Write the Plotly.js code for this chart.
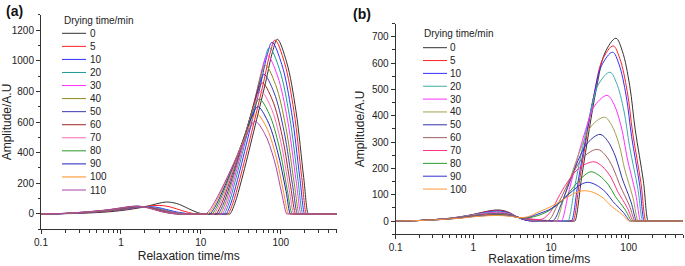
<!DOCTYPE html>
<html>
<head>
<meta charset="utf-8">
<script src="https://cdn.plot.ly/plotly-3.0.1.min.js"></script>
<style>html,body{margin:0;padding:0;background:#fff;}#chart{width:685px;height:266px;}</style>
</head>
<body>
<div id="chart"></div>
<script>
// ---------- Panel (a) data ----------
const aLabels = ['0','5','10','20','30','40','50','60','70','80','90','100','110'];
const aT2 = [
  [0.1,0.2,0.3,0.5,0.7,1,1.5,2,3,3.7,5,7,9,11, 22.5,23.2,26.6,32.6,45.8,64.4,79.1,90.6,118.3,154.9,193.6,221.3,228,500],
  [0.1,0.2,0.3,0.5,0.7,1,1.5,2,3,4,5,7,9, 21.2,21.9,25.1,30.7,43.2,60.5,74.1,84.9,111.4,146.2,183.2,209.9,216,500],
  [0.1,0.2,0.3,0.5,0.7,1,1.5,2,2.7,4,5,7,8.5, 20.1,20.7,23.7,28.8,40.1,55.8,68.1,77.8,103.3,136.8,173.4,199.5,205,500],
  [0.1,0.2,0.3,0.5,0.7,1,1.5,1.9,2.7,4,5,7,8, 18.9,19.5,22.3,27.0,37.5,52.0,63.2,72.1,96.4,128.5,163.7,189.2,195,500],
  [0.1,0.2,0.3,0.5,0.7,1,1.5,1.8,2.5,4,5,6.5, 17.8,18.4,21.1,25.5,35.4,49.1,59.7,68.1,91.2,121.9,155.6,179.9,185,500],
  [0.1,0.2,0.3,0.5,0.7,1,1.5,1.8,2.5,4,5,6, 16.9,17.4,19.9,24.1,33.4,46.3,56.4,64.3,86.1,115.3,147.2,170.6,176,500],
  [0.1,0.2,0.3,0.5,0.7,1,1.5,1.8,2.5,3.5,5,6, 15.9,16.4,18.8,22.9,31.8,44.3,54.1,61.7,82.4,110.2,140.3,162.2,167,500],
  [0.1,0.2,0.3,0.5,0.7,1,1.4,1.7,2.4,3.5,5,6, 15.0,15.5,17.7,21.6,30.2,42.2,51.5,58.9,78.5,104.7,133.0,153.8,158,500],
  [0.1,0.2,0.3,0.5,0.7,1,1.4,1.7,2.4,3.5,5,6, 14.2,14.6,16.7,20.5,28.8,40.4,49.4,56.6,75.3,100,126.8,146.2,150.5,500],
  [0.1,0.2,0.3,0.5,0.7,1,1.4,1.7,2.3,3.3,4.5,5.5, 13.4,13.8,15.8,19.4,27.3,38.4,47.1,54.0,71.6,95.1,120.5,138.7,143,500],
  [0.1,0.2,0.3,0.5,0.7,1,1.4,1.7,2.3,3.3,4.5,5.5, 12.6,13.0,14.9,18.4,25.9,36.6,44.9,51.5,68.2,90.6,116.7,131.8,136,500],
  [0.1,0.2,0.3,0.5,0.7,1,1.3,1.6,2.2,3.2,4.5,5.5, 11.9,12.3,14.1,17.4,24.7,35.0,43.2,49.5,65.5,86.3,108.9,125.0,129,500],
  [0.1,0.2,0.3,0.5,0.7,1,1.3,1.6,2.2,3.2,4.5,5.5, 11.25,11.6,13.3,16.5,23.5,33.5,41.4,47.6,62.7,82.4,103.5,118.9,122.5,500]
];
const aAmp = [
  [0,2,4,9,14,22,35,47,70,78,68,35,10,0, 0,0,68,228,536,855,1060,1140,992,673,239,0,0,0],
  [0,3,6,13,19,28,40,49,56,48,33,10,0, 0,0,68,227,533,851,1056,1135,987,670,238,0,0,0],
  [0,3,7,14,21,30,42,48,45,25,13,2,0, 0,0,67,224,526,840,1042,1120,974,661,235,0,0,0],
  [0,3,7,15,22,31,44,48,40,20,9,1,0, 0,0,65,217,510,814,1009,1085,944,640,228,0,0,0],
  [0,3,8,16,23,32,45,48,41,16,7,0, 0,0,62,207,486,776,963,1035,900,611,217,0,0,0],
  [0,3,8,16,23,33,46,48,40,14,5,0, 0,0,58,194,456,728,902,970,844,572,204,0,0,0],
  [0,3,8,17,24,34,47,48,38,18,3,0, 0,0,55,182,428,683,846,910,792,537,191,0,0,0],
  [0,3,9,17,24,35,47,49,39,17,3,0, 0,0,51,171,402,641,795,855,744,504,180,0,0,0],
  [0,4,9,18,25,36,48,49,38,16,3,0, 0,0,48,160,376,600,744,800,696,472,168,0,0,0],
  [0,4,9,18,26,37,48,50,40,17,3,0, 0,0,45,150,353,563,698,750,653,443,158,0,0,0],
  [0,4,10,19,27,38,49,50,39,16,3,0, 0,0,42,140,329,525,651,700,609,413,147,0,0,0],
  [0,4,10,19,27,39,48,50,40,16,3,0, 0,0,39,131,308,491,609,655,570,386,138,0,0,0],
  [0,4,10,20,28,40,49,50,39,15,2,0, 0,0,36,121,284,454,563,605,526,357,127,0,0,0]
];

// ---------- Panel (b) data ----------
const bLabels = ['0','5','10','20','30','40','50','60','70','80','90','100'];
const bT2 = [
  [0.1,0.15,0.2,0.3,0.5,0.7,1,1.5,2,2.5,3,4,5,6, 19.7,20.3,25.0,31.0,38.6,49.3,68.4,82.8,103.0,121.3,154.2,177.8,183,500],
  [0.1,0.15,0.2,0.3,0.5,0.7,1,1.5,2,2.5,3,4,5,6, 18.7,19.3,23.6,29.2,36.1,45.8,63.1,76.6,95.7,112.7,143.5,166,171,500],
  [0.1,0.15,0.2,0.3,0.5,0.7,1,1.5,2,2.5,3,4,5,6, 17.8,18.4,22.6,28.2,35.1,44.7,62.1,74.8,92.9,108.9,137.7,158.5,163,500],
  [0.1,0.15,0.2,0.3,0.5,0.7,1,1.5,2,2.5,3,4,5,6.5, 16.1,16.6,20.5,25.6,32.1,41.0,57.3,69.5,86.9,102.6,130.9,151.4,156,500],
  [0.1,0.15,0.2,0.3,0.5,0.7,1,1.5,2,2.5,3,4,5,7,9, 13.3,13.7,17.2,21.9,28.0,36.7,52.8,64.4,80.9,95.7,122.7,142.2,146.5,500],
  [0.1,0.15,0.2,0.3,0.5,0.7,1,1.5,2,2.5,3,4,5,7,9, 11.4,11.8,15.0,19.4,25.1,33.3,49.0,59.7,75.0,88.7,113.8,131.8,136,500],
  [0.1,0.15,0.2,0.3,0.5,0.7,1,1.5,2,2.5,3,4,5,7,9, 10.7,13.6,17.4,22.3,29.4,42.7,53.0,67.9,81.7,107.2,125.9,130,500],
  [0.1,0.15,0.2,0.3,0.5,0.7,1,1.5,2,2.5,3,4,5,6.5, 9.2,11.8,15.3,19.9,26.6,39.4,49.2,63.1,76.9,101.6,120.2,124,500],
  [0.1,0.15,0.2,0.3,0.5,0.7,1,1.5,2,2.5,3,4,5,6.5, 7.8,9.9,13.0,17.2,23.5,35.6,45.0,58.9,71.8,96.0,114.3,118,500],
  [0.1,0.15,0.2,0.3,0.5,0.7,1,1.5,2,2.5,3,4, 5,7,10,14,19,25,32.4,41.2,54.6,67.0,90.8,108.9,112,500],
  [0.1,0.15,0.2,0.3,0.5,0.7,1,1.5,2,2.5,3,4, 5,7,10,14,19,24,29.6,38.0,50.7,62.7,85.7,103.5,107,500],
  [0.1,0.15,0.2,0.3,0.5,0.7,1,1.5,2,2.5,3,4, 5,7,10,14,19,23,27.5,35.6,48.0,59.7,82.4,100,103,500]
];
const bAmp = [
  [0,1,2,5,11,17,25,37,42,39,30,10,2,0, 0,0,174,347,507,638,694,645,514,347,153,0,0,0],
  [0,1,2,5,10,16,25,36,40,37,29,10,2,0, 0,0,166,333,485,612,665,618,492,333,146,0,0,0],
  [0,1,2,5,10,16,24,34,38,35,28,10,2,0, 0,0,160,321,468,590,641,596,474,321,141,0,0,0],
  [0,1,2,5,10,16,24,32,35,33,27,12,5,0, 0,0,141,283,412,520,565,525,418,283,124,0,0,0],
  [0,1,2,5,10,15,22,30,33,31,26,12,6,1,0, 0,0,119,239,348,439,477,444,353,239,105,0,0,0],
  [0,1,2,5,10,15,22,28,30,29,25,12,7,3,1, 0,0,99,197,288,362,394,366,292,197,87,0,0,0],
  [0,1,2,5,9,14,20,26,28,27,24,12,8,4,2, 2,66,148,230,296,329,306,243,165,72,0,0,0],
  [0,1,2,5,9,14,20,25,27,26,22,12,7,3, 2,54,122,190,245,272,253,201,136,60,0,0,0],
  [0,1,2,4,9,13,19,24,25,24,21,12,9,6, 8,36,101,158,203,225,209,167,113,50,0,0,0],
  [0,1,2,4,8,12,18,22,24,23,20,12, 12,22,44,78,125,165,187,174,138,94,41,0,0,0],
  [0,1,2,4,8,12,17,21,22,21,19,13, 14,28,47,80,115,138,147,137,109,74,32,0,0,0],
  [0,1,2,4,8,11,16,20,21,20,18,13, 16,35,55,80,102,112,115,108,85,57,25,0,0,0]
];

// ---------- tick definitions ----------
const xMajor = [0.1, 1, 10, 100];
const xMajorText = ['0.1', '1', '10', '100'];
const xMinor = [0.2,0.3,0.4,0.5,0.6,0.7,0.8,0.9,2,3,4,5,6,7,8,9,20,30,40,50,60,70,80,90,200,300,400,500];
const aYTicks = [0, 200, 400, 600, 800, 1000, 1200];
const bYTicks = [0, 100, 200, 300, 400, 500, 600, 700];

// ---------- styles ----------
const aColors = ['#333333','#ff2020','#3030ff','#1a9a9a','#ff30ff','#8c8c1a','#3a3ab0','#a02828','#ff6ab4','#2a9a2a','#2020b8','#ff8c1a','#aa44aa'];
const bColors = ['#333333','#ff2020','#3030ff','#40aaaa','#ff30ff','#a0a050','#3535aa','#a06060','#ff3388','#2a9a2a','#3030cc','#ff9933'];

const W = 685, H = 266;
const FONT = 'Arial, "Liberation Sans", Helvetica, sans-serif';
const TXT = '#222222';

const traces = [];
aLabels.forEach((lab, i) => {
  traces.push({x: aT2[i], y: aAmp[i], xaxis: 'x', yaxis: 'y', mode: 'lines', name: lab,
    line: {shape: 'spline', smoothing: 1, width: 1, color: aColors[i]}, hoverinfo: 'skip'});
});
bLabels.forEach((lab, i) => {
  traces.push({x: bT2[i], y: bAmp[i], xaxis: 'x2', yaxis: 'y2', mode: 'lines', name: lab,
    line: {shape: 'spline', smoothing: 1, width: 1, color: bColors[i]}, hoverinfo: 'skip'});
});

function xAxis(domain, anchor) {
  return {
    domain: domain, anchor: anchor, type: 'log', range: [-1, Math.log10(500)],
    tickmode: 'array', tickvals: xMajor, ticktext: xMajorText,
    ticks: 'outside', ticklen: 4, tickwidth: 1, tickcolor: '#333',
    minor: {tickmode: 'array', tickvals: xMinor, ticks: 'outside', ticklen: 2.5, tickcolor: '#333', showgrid: false},
    showline: true, linecolor: '#333', linewidth: 1, showgrid: false, zeroline: false,
    tickfont: {family: FONT, size: 10, color: TXT},
    title: {text: 'Relaxation time/ms', font: {family: FONT, size: 12, color: TXT}, standoff: 4},
    automargin: false
  };
}
function yAxis(domain, anchor, range, ticks, minorStep) {
  return {
    domain: domain, anchor: anchor, range: range,
    tickmode: 'array', tickvals: ticks,
    ticks: 'outside', ticklen: 4, tickwidth: 1, tickcolor: '#333',
    minor: {dtick: minorStep, ticks: 'outside', ticklen: 2.5, tickcolor: '#333', showgrid: false},
    showline: true, linecolor: '#333', linewidth: 1, showgrid: false, zeroline: false,
    tickfont: {family: FONT, size: 10, color: TXT},
    title: {text: 'Amplitude/A.U', font: {family: FONT, size: 12, color: TXT}, standoff: 4},
    automargin: false
  };
}

// legend drawn as annotations + shapes (pixel layout → paper coords)
const annotations = [];
const shapes = [];
function px(x) { return x / W; }
function py(y) { return 1 - y / H; }
function addLegend(labels, colors, titleX, titleY, y0, dy, lx0, lx1, tx) {
  annotations.push({xref: 'paper', yref: 'paper', x: px(titleX), y: py(titleY), xanchor: 'left', yanchor: 'middle',
    text: 'Drying time/min', showarrow: false, font: {family: FONT, size: 10, color: TXT}});
  labels.forEach((lab, i) => {
    const yy = y0 + i * dy;
    shapes.push({type: 'line', xref: 'paper', yref: 'paper', x0: px(lx0), x1: px(lx1), y0: py(yy), y1: py(yy),
      line: {color: colors[i], width: 1}});
    annotations.push({xref: 'paper', yref: 'paper', x: px(tx), y: py(yy), xanchor: 'left', yanchor: 'middle',
      text: lab, showarrow: false, font: {family: FONT, size: 10, color: TXT}});
  });
}
addLegend(aLabels, aColors, 62, 20, 33.3, 13.06, 62, 86, 87.5);
addLegend(bLabels, bColors, 422, 33.3, 47.7, 12.85, 423, 447, 447.5);

annotations.push({xref: 'paper', yref: 'paper', x: px(4), y: py(11), xanchor: 'left', yanchor: 'middle',
  text: '<b>(a)</b>', showarrow: false, font: {family: FONT, size: 14, color: '#111'}});
annotations.push({xref: 'paper', yref: 'paper', x: px(351), y: py(14), xanchor: 'left', yanchor: 'middle',
  text: '<b>(b)</b>', showarrow: false, font: {family: FONT, size: 14, color: '#111'}});

const layout = {
  width: W, height: H, margin: {l: 0, r: 0, t: 0, b: 0},
  paper_bgcolor: '#fff', plot_bgcolor: '#fff', showlegend: false,
  font: {family: FONT, size: 10, color: TXT},
  xaxis: xAxis([41 / W, 336.6 / W], 'y'),
  yaxis: yAxis([1 - 229.3 / H, 1 - 14.7 / H], 'x', [-100, 1300], aYTicks, 100),
  xaxis2: xAxis([395.7 / W, 683 / W], 'y2'),
  yaxis2: yAxis([1 - 234.2 / H, 1 - 23.5 / H], 'x2', [-50, 750], bYTicks, 50),
  annotations: annotations, shapes: shapes
};

Plotly.newPlot('chart', traces, layout, {staticPlot: true, displayModeBar: false});
</script>
</body>
</html>
